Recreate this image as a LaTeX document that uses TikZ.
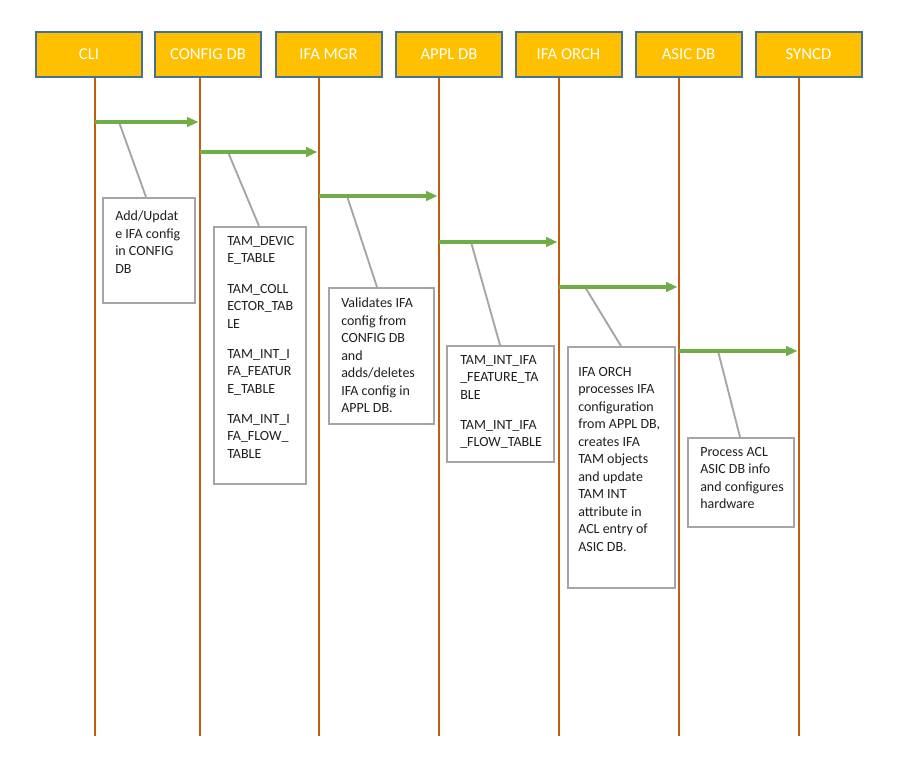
\documentclass[tikz,border=0pt]{standalone}
\usepackage{fontspec}
\setmainfont{Carlito}
\usetikzlibrary{arrows.meta}

\definecolor{hdrfill}{HTML}{FFC000}
\definecolor{hdrline}{HTML}{41719C}
\definecolor{lifeclr}{HTML}{C55A11}
\definecolor{msgclr}{HTML}{70AD47}
\definecolor{noteclr}{HTML}{A5A5A5}
\definecolor{txtclr}{HTML}{1F1F1F}

\tikzset{
  hdr/.style={draw=hdrline, line width=1.5pt, fill=hdrfill, text=white,
    minimum width=79.5pt, minimum height=33.75pt, inner sep=0pt,
    font={\fontsize{12.5}{14}\selectfont}},
  lifeline/.style={draw=lifeclr, line width=2.2pt},
  msg/.style={draw=msgclr, line width=2.3pt,
    -{Triangle[length=8.5pt,width=7pt]}},
  lead/.style={draw=noteclr, line width=1.4pt},
  notebox/.style={draw=noteclr, line width=1.5pt, fill=white,
    anchor=north west, inner sep=0pt},
  notetxt/.style={anchor=north west, inner sep=0pt, align=left, text=txtclr,
    font={\fontsize{10.5}{13.125}\selectfont}}
}

\begin{document}
\begin{tikzpicture}[x=0.75pt, y=-0.75pt]
  % canvas
  \fill[white] (0,0) rectangle (901,774);
  \useasboundingbox (0,0) rectangle (901,774);

  % lifeline end points
  \foreach \n/\x in {1/95, 2/200, 3/319, 4/439, 5/559, 6/679, 7/799} {
    \coordinate (t\n) at (\x,70);
    \coordinate (b\n) at (\x,736);
  }
  \foreach \n in {1,...,7} { \draw[lifeline] (t\n) -- (b\n); }

  % participants
  \node[hdr] (cli)   at (89,54.5)  {CLI};
  \node[hdr] (cfgdb) at (208,54.5) {CONFIG DB};
  \node[hdr] (ifamgr) at (328.5,54.5) {IFA MGR};
  \node[hdr] (appldb) at (449,54.5) {APPL DB};
  \node[hdr] (ifaorch) at (568.5,54.5) {IFA ORCH};
  \node[hdr] (asicdb) at (688.5,54.5) {ASIC DB};
  \node[hdr] (syncd) at (808.5,54.5) {SYNCD};

  % message end points
  \coordinate (m1s) at (95,122);  \coordinate (m1e) at (198.5,122);
  \coordinate (m2s) at (200,152); \coordinate (m2e) at (317.5,152);
  \coordinate (m3s) at (319,196); \coordinate (m3e) at (437.5,196);
  \coordinate (m4s) at (439,242); \coordinate (m4e) at (557.5,242);
  \coordinate (m5s) at (559,287); \coordinate (m5e) at (677.5,287);
  \coordinate (m6s) at (679,351); \coordinate (m6e) at (797.5,351);

  % callout anchors on the messages
  \coordinate (c1) at (119,122);
  \coordinate (c2) at (228,152);
  \coordinate (c3) at (347,196);
  \coordinate (c4) at (471,242);
  \coordinate (c5) at (585,287);
  \coordinate (c6) at (718,351);

  % callout boxes
  \node[notebox, minimum width=69pt, minimum height=78.75pt] (n1) at (102,197) {};
  \node[notebox, minimum width=69pt, minimum height=192.75pt] (n2) at (213,226) {};
  \node[notebox, minimum width=78.75pt, minimum height=102pt] (n3) at (328,287) {};
  \node[notebox, minimum width=80.25pt, minimum height=87pt] (n4) at (446,345) {};
  \node[notebox, minimum width=80.25pt, minimum height=180.75pt] (n5) at (567,346) {};
  \node[notebox, minimum width=79.5pt, minimum height=66.75pt] (n6) at (687,437) {};

  % leader lines from messages to their notes
  \draw[lead] (c1) -- (n1.north west -| 146,0);
  \draw[lead] (c2) -- (n2.north west -| 259,0);
  \draw[lead] (c3) -- (n3.north west -| 377,0);
  \draw[lead] (c4) -- (n4.north west -| 500,0);
  \draw[lead] (c5) -- (n5.north west -| 621,0);
  \draw[lead] (c6) -- (n6.north west -| 740,0);

  % messages
  \draw[msg] (m1s) -- (m1e);
  \draw[msg] (m2s) -- (m2e);
  \draw[msg] (m3s) -- (m3e);
  \draw[msg] (m4s) -- (m4e);
  \draw[msg] (m5s) -- (m5e);
  \draw[msg] (m6s) -- (m6e);

  % note texts
  \node[notetxt] (x1) at (115,211) {Add/Updat\\e IFA config\\in CONFIG\\DB};
  \node[notetxt] (x2) at (227,236) {TAM\_DEVIC\\E\_TABLE\\[9.5pt]TAM\_COLL\\ECTOR\_TAB\\LE\\[9.5pt]TAM\_INT\_I\\FA\_FEATUR\\E\_TABLE\\[9.5pt]TAM\_INT\_I\\FA\_FLOW\_\\TABLE};
  \node[notetxt] (x3) at (341,298) {Validates IFA\\config from\\CONFIG DB\\and\\adds/deletes\\IFA config in\\APPL DB.};
  \node[notetxt] (x4) at (460,355) {TAM\_INT\_IFA\\\_FEATURE\_TA\\BLE\\[9.5pt]TAM\_INT\_IFA\\\_FLOW\_TABLE};
  \node[notetxt] (x5) at (578,367) {IFA ORCH\\processes IFA\\configuration\\from APPL DB,\\creates IFA\\TAM objects\\and update\\TAM INT\\attribute in\\ACL entry of\\ASIC DB.};
  \node[notetxt] (x6) at (700,447) {Process ACL\\ASIC DB info\\and configures\\hardware};
\end{tikzpicture}
\end{document}
